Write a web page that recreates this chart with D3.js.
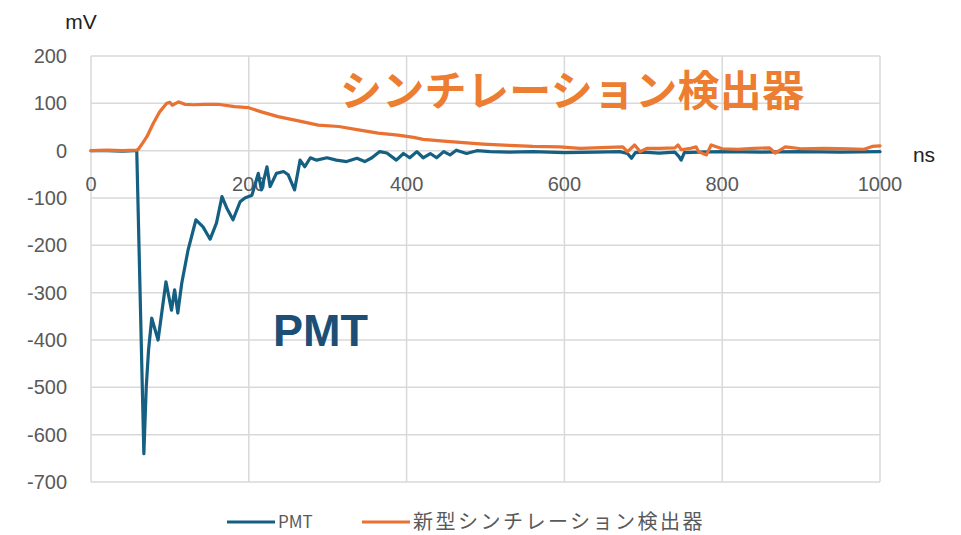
<!DOCTYPE html>
<html>
<head>
<meta charset="utf-8">
<script src="https://cdn.jsdelivr.net/npm/d3@7"></script>
<style>
  body { margin: 0; background: #fff; }
  svg { display: block; }
</style>
</head>
<body>
<div id="app"></div>
<script>
// x ticks / y ticks
const xTicks = [0, 200, 400, 600, 800, 1000];
const yTicks = [200, 100, 0, -100, -200, -300, -400, -500, -600, -700];

// PMT (ns, mV)
const pmtT = [0, 20, 40, 55, 58, 67, 70, 73, 77, 85, 95, 102, 106, 110, 115, 123, 133, 142, 151, 159, 166, 172, 180, 189, 195, 204, 212, 216, 223, 227, 235, 244, 250, 258, 265, 271, 278, 286, 299, 311, 324, 337, 347, 356, 366, 375, 387, 396, 404, 413, 421, 430, 438, 447, 455, 463, 476, 489, 506, 530, 560, 600, 640, 670, 680, 685, 690, 700, 720, 740, 745, 748, 752, 770, 800, 850, 900, 950, 1000];
const pmtV = [0, 0, -1, 0, 0, -640, -500, -420, -354, -400, -277, -337, -294, -343, -280, -210, -146, -161, -187, -153, -97, -121, -146, -108, -100, -94, -48, -83, -34, -76, -48, -44, -51, -83, -20, -34, -15, -20, -15, -20, -23, -16, -23, -15, -2, -5, -20, -6, -15, -2, -15, -6, -15, -2, -9, 1, -6, 0, -2, -3, -2, -4, -3, -2, -6, -16, -4, -3, -5, -3, -12, -20, -4, -3, -2, -3, -2, -3, -2];

// 新型シンチレーション検出器 (ns, mV)
const sciT = [0, 20, 40, 58, 60, 65, 71, 79, 87, 96, 100, 103, 111, 119, 130, 144, 161, 182, 199, 216, 237, 263, 288, 314, 339, 364, 389, 409, 421, 447, 472, 497, 530, 560, 594, 620, 674, 680, 689, 696, 705, 720, 740, 744, 748, 760, 767, 770, 780, 786, 800, 820, 840, 860, 867, 880, 900, 930, 960, 980, 990, 1000];
const sciV = [0, 1, 0, 1, 3, 15, 30, 58, 82, 100, 102, 96, 103, 98, 97, 98, 98, 93, 91, 82, 72, 63, 54, 51, 44, 37, 33, 28, 24, 20, 17, 14, 11, 9, 8, 5, 8, -2, 12, -2, 5, 5, 6, 12, 2, 5, 8, -2, -9, 12, 4, 3, 5, 6, -5, 8, 4, 5, 4, 3, 9, 10, 9];

const seriesNames = ["PMT", "新型シンチレーション検出器"];
const colors = ["#156082", "#E97132"];

const W = 961, H = 535;
const x = d3.scaleLinear().domain([0, 1000]).range([91, 880]);
const y = d3.scaleLinear().domain([-700, 200]).range([482, 56]);

const svg = d3.select("#app").append("svg").attr("width", W).attr("height", H)
  .attr("font-family", "'Liberation Sans', Arial, sans-serif");

const grid = "#d9d9d9";
svg.append("g").selectAll("line").data(yTicks).join("line")
  .attr("x1", x(0)).attr("x2", x(1000))
  .attr("y1", d => y(d)).attr("y2", d => y(d))
  .attr("stroke", grid).attr("stroke-width", 1.5);
svg.append("g").selectAll("line").data(xTicks).join("line")
  .attr("x1", d => x(d)).attr("x2", d => x(d))
  .attr("y1", y(200)).attr("y2", y(-700))
  .attr("stroke", grid).attr("stroke-width", 1.5);

// y labels
svg.append("g").selectAll("text").data(yTicks).join("text")
  .attr("x", 67).attr("y", d => y(d)).attr("dy", "0.35em")
  .attr("text-anchor", "end").attr("font-size", 20).attr("fill", "#595959")
  .text(d => d);
// x labels (sit just under the zero line)
svg.append("g").selectAll("text").data(xTicks).join("text")
  .attr("x", d => x(d)).attr("y", y(0) + 33).attr("dy", "0.35em")
  .attr("text-anchor", "middle").attr("font-size", 20).attr("fill", "#595959")
  .text(d => d);

svg.append("text").attr("x", 81).attr("y", 22).attr("dy", "0.35em")
  .attr("text-anchor", "middle").attr("font-size", 21).attr("fill", "#222").text("mV");
svg.append("text").attr("x", 924).attr("y", 155).attr("dy", "0.35em")
  .attr("text-anchor", "middle").attr("font-size", 21).attr("fill", "#222").text("ns");

const line = d3.line().x(d => x(d[0])).y(d => y(d[1]));
const series = [d3.zip(pmtT, pmtV), d3.zip(sciT, sciV)];

svg.append("g").selectAll("path").data(series).join("path")
  .attr("d", line).attr("fill", "none")
  .attr("stroke", (d, i) => colors[i]).attr("stroke-width", 3.2)
  .attr("stroke-linejoin", "round").attr("stroke-linecap", "round");

// annotations
svg.append("text").attr("x", 340).attr("y", 91).attr("dy", "0.35em")
  .attr("font-size", 42).attr("font-weight", "bold").attr("fill", "#ED7D31")
  .attr("letter-spacing", 0.3)
  .attr("font-family", "'Noto Sans CJK JP', sans-serif")
  .text("シンチレーション検出器");
svg.append("text").attr("x", 273).attr("y", 330).attr("dy", "0.35em")
  .attr("font-size", 45).attr("font-weight", "bold").attr("fill", "#1D4F76")
  .text("PMT");

// legend
const legX = [227, 362];
const leg = svg.append("g").selectAll("g").data(seriesNames).join("g")
  .attr("transform", (d, i) => `translate(${legX[i]},522)`);
leg.append("line").attr("x1", 0).attr("x2", 48).attr("y1", 0).attr("y2", 0)
  .attr("stroke", (d, i) => colors[i]).attr("stroke-width", 3);
leg.append("text").attr("x", 51).attr("y", 0).attr("dy", "0.35em")
  .attr("font-size", (d, i) => i ? 20 : 17).attr("fill", "#595959")
  .attr("letter-spacing", (d, i) => i ? 2.5 : 0)
  .attr("font-family", "'Noto Sans CJK JP', sans-serif")
  .text(d => d);
</script>
</body>
</html>
